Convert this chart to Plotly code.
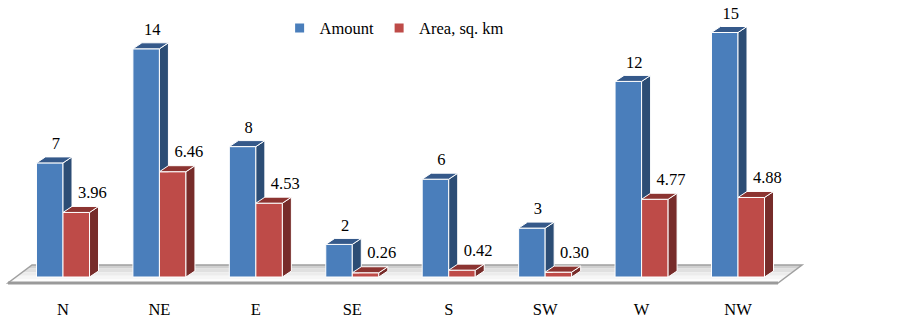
import plotly.graph_objects as go

# ---- data ----
categories = ["N", "NE", "E", "SE", "S", "SW", "W", "NW"]
amount = [7, 14, 8, 2, 6, 3, 12, 15]
area = [3.96, 6.46, 4.53, 0.26, 0.42, 0.30, 4.77, 4.88]
series_names = ["Amount", "Area, sq. km"]

# ---- style ----
BLUE_FRONT, BLUE_SIDE, BLUE_TOP = "#4A7EBB", "#2C4D75", "#35598A"
RED_FRONT, RED_SIDE, RED_TOP = "#BE4B48", "#772C2A", "#8C3431"
FONT = "Times New Roman"
FS = 16.5

W, H = 902, 322
ML, MR, MT, MB = 0, 0, 0, 25
PX_X = 96.43            # px per category
PX_Y = 16.3             # px per value unit
X0_PX = 63              # pixel of first category
Y0_PX = 277             # pixel of value 0
plot_h = H - MT - MB
xmin = -(X0_PX - ML) / PX_X
xmax = xmin + (W - ML - MR) / PX_X
ymin = -(MT + plot_h - Y0_PX) / PX_Y
ymax = ymin + plot_h / PX_Y

BW = 0.275              # bar width (category units)
DX = 9 / PX_X           # depth offset x
DY = 6 / PX_Y           # depth offset y

idx = list(range(len(categories)))
fig = go.Figure()

# front faces as bars
fig.add_trace(go.Bar(x=idx, y=amount, width=BW, offset=-BW, marker=dict(color=BLUE_FRONT, line=dict(color="white", width=1)),
                     showlegend=False, hoverinfo="skip"))
fig.add_trace(go.Bar(x=idx, y=area, width=BW, offset=0, marker=dict(color=RED_FRONT, line=dict(color="white", width=1)),
                     showlegend=False, hoverinfo="skip"))


def poly_trace(polys, color):
    xs, ys = [], []
    for p in polys:
        for (a, b) in p:
            xs.append(a)
            ys.append(b)
        xs.append(p[0][0]); ys.append(p[0][1])
        xs.append(None); ys.append(None)
    return go.Scatter(x=xs, y=ys, mode="lines", fill="toself", fillcolor=color,
                      line=dict(color="white", width=1), showlegend=False, hoverinfo="skip")


# blue side faces (clipped by red front), blue tops
blue_side, blue_top = [], []
for i, v, r in zip(idx, amount, area):
    x0, x1 = i - BW, i
    if r >= DY:
        blue_side.append([(x1, r), (x1 + DX, r), (x1 + DX, v + DY), (x1, v)])
    else:
        blue_side.append([(x1, r), (x1 + DX * r / DY, r), (x1 + DX, DY), (x1 + DX, v + DY), (x1, v)])
    blue_top.append([(x0, v), (x0 + DX, v + DY), (x1 + DX, v + DY), (x1, v)])
fig.add_trace(poly_trace(blue_side, BLUE_SIDE))
fig.add_trace(poly_trace(blue_top, BLUE_TOP))

red_side, red_top = [], []
for i, r in zip(idx, area):
    x0, x1 = i, i + BW
    red_side.append([(x1, 0), (x1 + DX, DY), (x1 + DX, r + DY), (x1, r)])
    red_top.append([(x0, r), (x0 + DX, r + DY), (x1 + DX, r + DY), (x1, r)])
fig.add_trace(poly_trace(red_side, RED_SIDE))
fig.add_trace(poly_trace(red_top, RED_TOP))

# value labels
fig.add_trace(go.Scatter(x=[i - 0.075 for i in idx], y=[v + DY + 12 / PX_Y for v in amount],
                         text=[str(v) for v in amount], mode="text", textposition="middle center",
                         textfont=dict(family=FONT, size=FS, color="black"), showlegend=False, hoverinfo="skip"))
fig.add_trace(go.Scatter(x=[i + 0.305 for i in idx], y=[r + DY + 12.5 / PX_Y for r in area],
                         text=[f"{r:.2f}" for r in area], mode="text", textposition="middle center",
                         textfont=dict(family=FONT, size=FS, color="black"), showlegend=False, hoverinfo="skip"))

# legend entries
for name, col in zip(series_names, [BLUE_FRONT, RED_FRONT]):
    fig.add_trace(go.Scatter(x=[None], y=[None], mode="markers", name=name,
                             marker=dict(symbol="square", size=9, color=col)))

# floor (3D base plate)
fl, fr = (8 - X0_PX) / PX_X, (778 - X0_PX) / PX_X
bdx = 24 / PX_X
yf, yb = (Y0_PX - 283) / PX_Y, (Y0_PX - 265) / PX_Y
bands = ["#d0d0d0", "#e0e0e0", "#ececec", "#f6f6f6", "#fdfdfd"]
nb = len(bands)
shapes = []
for k, c in enumerate(bands):
    t0, t1 = k / nb, (k + 1) / nb
    ya, yb_ = yb + (yf - yb) * t0, yb + (yf - yb) * t1
    xa, xb_ = bdx * (1 - t0), bdx * (1 - t1)
    path = f"M{fl + xa},{ya} L{fr + xa},{ya} L{fr + xb_},{yb_} L{fl + xb_},{yb_} Z"
    shapes.append(dict(type="path", path=path, xref="x", yref="y", layer="below",
                       fillcolor=c, line=dict(width=0)))
outline = f"M{fl + bdx},{yb} L{fr + bdx},{yb} L{fr},{yf} L{fl},{yf} Z"
shapes.append(dict(type="path", path=outline, xref="x", yref="y", layer="below",
                   fillcolor="rgba(0,0,0,0)", line=dict(color="#a0a0a0", width=1.5)))
shapes.append(dict(type="line", x0=fl, x1=fr, y0=yf, y1=yf, xref="x", yref="y", layer="below",
                   line=dict(color="#9a9a9a", width=3)))

fig.update_layout(
    width=W, height=H,
    margin=dict(l=ML, r=MR, t=MT, b=MB),
    paper_bgcolor="white", plot_bgcolor="white",
    barmode="overlay",
    shapes=shapes,
    font=dict(family=FONT, size=FS, color="black"),
    showlegend=True,
    legend=dict(orientation="h", x=0.31, y=0.905, xanchor="left", yanchor="middle",
                font=dict(family=FONT, size=FS, color="black"), bgcolor="rgba(0,0,0,0)",
                itemwidth=30, tracegroupgap=0),
    xaxis=dict(range=[xmin, xmax], tickvals=idx, ticktext=categories, showgrid=False,
               zeroline=False, showline=False, ticks="", tickfont=dict(family=FONT, size=FS, color="black"),
               fixedrange=True),
    yaxis=dict(range=[ymin, ymax], visible=False, fixedrange=True),
)

fig.write_html("out.html", config=dict(displayModeBar=False),
               post_script="document.body.style.margin='0';document.body.style.overflow='hidden';")
